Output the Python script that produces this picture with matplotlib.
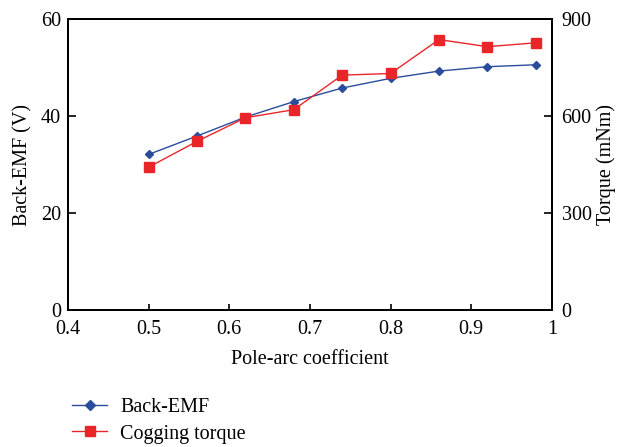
import matplotlib
matplotlib.use('Agg')
from matplotlib import pyplot as plt
from matplotlib.lines import Line2D

plt.rcParams['font.family'] = ['Liberation Serif', 'DejaVu Serif']
plt.rcParams['font.size'] = 14.5

pole_arc = [0.50, 0.56, 0.62, 0.68, 0.74, 0.80, 0.86, 0.92, 0.98]
back_emf = [32.1, 35.9, 39.8, 43.0, 45.8, 47.8, 49.3, 50.2, 50.6]
cogging = [442, 522, 595, 620, 727, 732, 837, 815, 827]

blue = '#2a4c9c'
red = '#e8262a'

fig = plt.figure(figsize=(6.18, 4.47), dpi=100)
ax = fig.add_axes([0.110, 0.3065, 0.783, 0.6505])
ax2 = ax.twinx()

ax.plot(pole_arc, back_emf, color=blue, lw=1.0, marker='D', ms=4.5, zorder=3)
ax2.plot(pole_arc, cogging, color=red, lw=1.0, marker='s', ms=6.5, zorder=2)

ax.set_xlim(0.4, 1.0)
ax.set_ylim(0, 60)
ax2.set_ylim(0, 900)
ax.set_xticks([0.4, 0.5, 0.6, 0.7, 0.8, 0.9, 1.0])
ax.set_xticklabels(['0.4', '0.5', '0.6', '0.7', '0.8', '0.9', '1'])
ax.set_yticks([0, 20, 40, 60])
ax2.set_yticks([0, 300, 600, 900])

ax.tick_params(axis='x', direction='in', length=4.5, width=1.2, pad=7)
ax.tick_params(axis='y', direction='in', length=6, width=1.2, pad=5)
ax2.tick_params(axis='y', direction='in', length=6, width=1.2, pad=7)
for a in (ax, ax2):
    for s in a.spines.values():
        s.set_linewidth(1.4)

ax.set_xlabel('Pole-arc coefficient', labelpad=8)
ax.set_ylabel('Back-EMF (V)', labelpad=6)
ax2.set_ylabel('Torque (mNm)', labelpad=3)

handles = [
    Line2D([], [], color=blue, lw=1.0, marker='D', ms=5),
    Line2D([], [], color=red, lw=1.0, marker='s', ms=7),
]
fig.legend(handles, ['Back-EMF', 'Cogging torque'], loc='upper left',
           bbox_to_anchor=(0.1165, 0.109), frameon=False, handlelength=1.75,
           labelspacing=0.35, handletextpad=0.65, borderpad=0,
           borderaxespad=0)

fig.savefig('out.png', dpi=100)
